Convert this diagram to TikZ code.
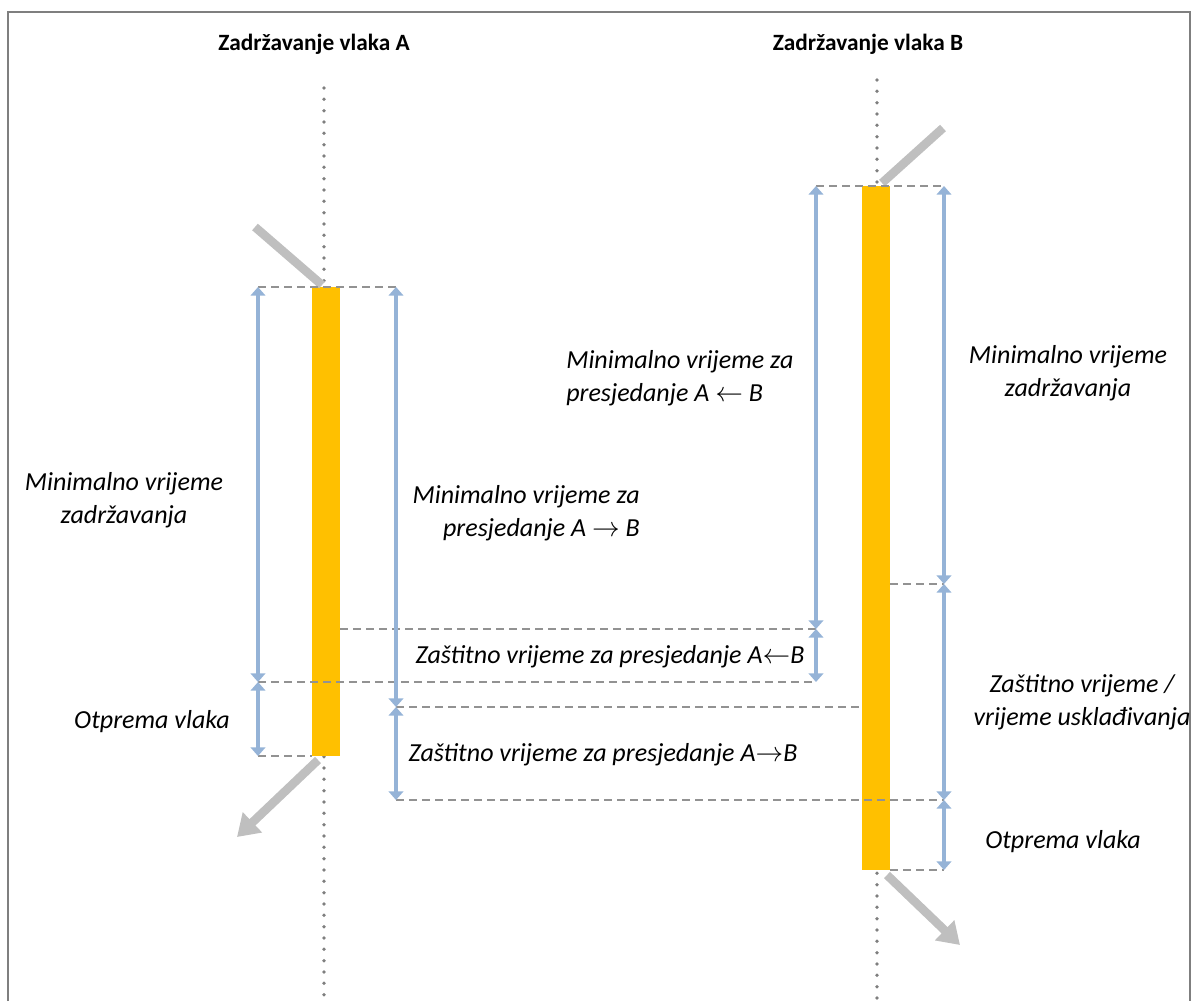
\documentclass[tikz,border=0pt]{standalone}
\usepackage{fontspec}
\setmainfont{Carlito}
\usetikzlibrary{arrows.meta, positioning, calc}
\definecolor{BarOrange}{RGB}{255,192,0}
\definecolor{DimBlue}{RGB}{149,179,215}
\definecolor{TrackGray}{RGB}{191,191,191}
\definecolor{LineGray}{RGB}{127,127,127}
\newcommand{\lbl}{\fontsize{19.5}{24.75}\selectfont\itshape}
\newcommand{\ttl}{\fontsize{17.5}{20}\selectfont\bfseries}

\begin{document}
\begin{tikzpicture}[
    x=0.75pt, y=-0.75pt,
    bar/.style={fill=BarOrange, inner sep=0pt, outer sep=0pt, minimum width=21pt},
    dim/.style={DimBlue, line width=2.5pt,
        {Triangle[width=11pt, length=6.5pt]}-{Triangle[width=11pt, length=6.5pt]}},
    guide/.style={LineGray!85, line width=1.2pt, dash pattern=on 6pt off 3.75pt},
    axis/.style={LineGray, line width=2.8pt, line cap=round, dash pattern=on 0pt off 8.5pt},
    track/.style={TrackGray, line width=6.5pt},
    trackout/.style={TrackGray, line width=6.5pt, -{Triangle[width=20pt, length=16pt]}},
    txt/.style={inner sep=0pt, align=center, font=\lbl}
]
\useasboundingbox (0,0) rectangle (1197,1001);
\draw[LineGray, line width=1.5pt] (8,1001) -- (8,12) -- (1190,12) -- (1190,1001);

% axes
\coordinate (topA) at (324,88);
\coordinate (botA) at (324,1001);
\coordinate (topB) at (877,80);
\coordinate (botB) at (877,1001);
\draw[axis] (topA) -- (botA);
\draw[axis] (topB) -- (botB);

\node[font=\ttl] (ttlA) at (314,44) {Zadržavanje vlaka A};
\node[font=\ttl] (ttlB) at (868,44) {Zadržavanje vlaka B};

% dwell bars
\node[bar, minimum height=351.75pt] (barA) at (326,521.5) {};
\node[bar, minimum height=513pt] (barB) at (876,528) {};

% trains in and out
\coordinate (inA) at (255,227);
\coordinate (outA) at (237,837);
\coordinate (inB) at (943,128);
\coordinate (outB) at (960,945);
\draw[track] (inA) -- ($(barA.north)+(-4,-2)$);
\draw[trackout] ($(barA.south)+(-8,4)$) -- (outA);
\draw[track] (inB) -- ($(barB.north)+(6,-3)$);
\draw[trackout] ($(barB.south)+(11,5)$) -- (outB);

% time points
\coordinate (lA1) at (258,287);
\coordinate (lA2) at (258,682);
\coordinate (lA3) at (258,756);
\coordinate (rA1) at (396,287);
\coordinate (rA2) at (396,707);
\coordinate (rA3) at (396,800);
\coordinate (lB1) at (816,186);
\coordinate (lB2) at (816,629);
\coordinate (lB3) at (816,682);
\coordinate (rB1) at (944,186);
\coordinate (rB2) at (944,584);
\coordinate (rB3) at (944,800);
\coordinate (rB4) at (944,870);

\draw[guide] (lA1) -- (rA1);
\draw[guide] (lB1) -- (rB1);
\draw[guide] (barA.east |- lB2) -- (lB2);
\draw[guide] (lA2) -- (lB3);
\draw[guide] (rA2) -- (barB.west |- rA2);
\draw[guide] (barB.east |- rB2) -- (rB2);
\draw[guide] (lA3) -- (barA.west |- lA3);
\draw[guide] (rA3) -- (rB3);
\draw[guide] (barB.east |- rB4) -- (rB4);

\draw[dim] (lA1) -- (lA2);
\draw[dim] (lA2) -- (lA3);
\draw[dim] (rA1) -- (rA2);
\draw[dim] (rA2) -- (rA3);
\draw[dim] (lB1) -- (lB2);
\draw[dim] (lB2) -- (lB3);
\draw[dim] (rB1) -- (rB2);
\draw[dim] (rB2) -- (rB3);
\draw[dim] (rB3) -- (rB4);

% labels
\node[txt] (minA) at (124,500) {Minimalno vrijeme\\zadržavanja};
\node[txt] (otpA) at (152,722) {Otprema vlaka};
\node[txt, anchor=east, align=right] (minAB) at (640,513)
    {Minimalno vrijeme za\\presjedanje A $\rightarrow$ B};
\node[txt] (zasAB) at (603,755) {Zaštitno vrijeme za presjedanje A$\rightarrow$B};
\node[txt, anchor=west, align=left] (minBA) at (566,378)
    {Minimalno vrijeme za\\presjedanje A $\leftarrow$ B};
\node[txt] (zasBA) at (610,657) {Zaštitno vrijeme za presjedanje A$\leftarrow$B};
\node[txt] (minB) at (1068,373) {Minimalno vrijeme\\zadržavanja};
\node[txt] (zasB) at (1082,702) {Zaštitno vrijeme /\\vrijeme usklađivanja};
\node[txt] (otpB) at (1063,842) {Otprema vlaka};

\end{tikzpicture}
\end{document}
